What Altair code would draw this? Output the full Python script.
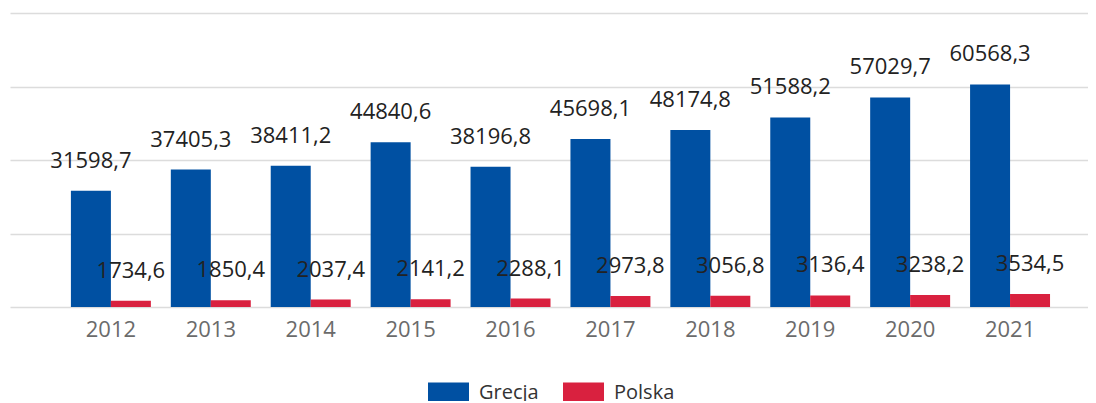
import altair as alt
import pandas as pd

years = ["2012", "2013", "2014", "2015", "2016", "2017", "2018", "2019", "2020", "2021"]
series = ["Grecja", "Polska"]
grecja = [31598.7, 37405.3, 38411.2, 44840.6, 38196.8, 45698.1, 48174.8, 51588.2, 57029.7, 60568.3]
polska = [1734.6, 1850.4, 2037.4, 2141.2, 2288.1, 2973.8, 3056.8, 3136.4, 3238.2, 3534.5]
colors = ["#0050a2", "#d9213f"]

rows = []
for i, y in enumerate(years):
    for s, vals in zip(series, [grecja, polska]):
        v = vals[i]
        rows.append({"rok": y, "kraj": s, "wartosc": v,
                     "etykieta": f"{v:.1f}".replace(".", ",")})
df = pd.DataFrame(rows)

FONT = "Open Sans"

x = alt.X("rok:N", sort=years, title=None,
          scale=alt.Scale(paddingInner=0.2, paddingOuter=0.495, align=0.616),
          axis=alt.Axis(labelAngle=0, labelFontSize=22, labelColor="#6b6b6b",
                        labelFont=FONT, ticks=False, domain=False, grid=False,
                        labelPadding=12))
xo = alt.XOffset("kraj:N", sort=series, scale=alt.Scale(paddingInner=0, paddingOuter=0))
y = alt.Y("wartosc:Q", title=None,
          scale=alt.Scale(domain=[0, 80000], nice=False),
          axis=alt.Axis(values=[0, 20000, 40000, 60000, 80000], labels=False,
                        ticks=False, domain=False, grid=True,
                        gridColor="#dcdcdc", gridWidth=1.5))
color = alt.Color("kraj:N", sort=series, title=None,
                  scale=alt.Scale(domain=series, range=colors),
                  legend=alt.Legend(orient="none", legendX=418, legendY=359,
                                    direction="horizontal",
                                    symbolType="M-1,-0.5H1V0.5H-1Z",
                                    symbolSize=1681, symbolStrokeWidth=0,
                                    symbolOpacity=1,
                                    labelFontSize=20, labelFont=FONT,
                                    labelColor="#333333", labelOffset=10,
                                    columnPadding=24, padding=0))

bars = alt.Chart(df).mark_bar(size=40).encode(x=x, xOffset=xo, y=y, color=color)

labels = alt.Chart(df).mark_text(fontSize=22, font=FONT, color="#222222",
                                 baseline="alphabetic", dy=-23).encode(
    x=alt.X("rok:N", sort=years),
    xOffset=alt.XOffset("kraj:N", sort=series),
    y=alt.Y("wartosc:Q"),
    text="etykieta:N",
)

chart = alt.layer(bars, labels).properties(
    width=1078, height=294,
    autosize=alt.AutoSizeParams(type="none"),
    padding={"left": 2, "top": 5, "right": 0, "bottom": 94},
).configure_view(stroke=None).configure_axis(labelFont=FONT)

chart.save("out.html", embed_options={"renderer": "svg", "actions": False})
